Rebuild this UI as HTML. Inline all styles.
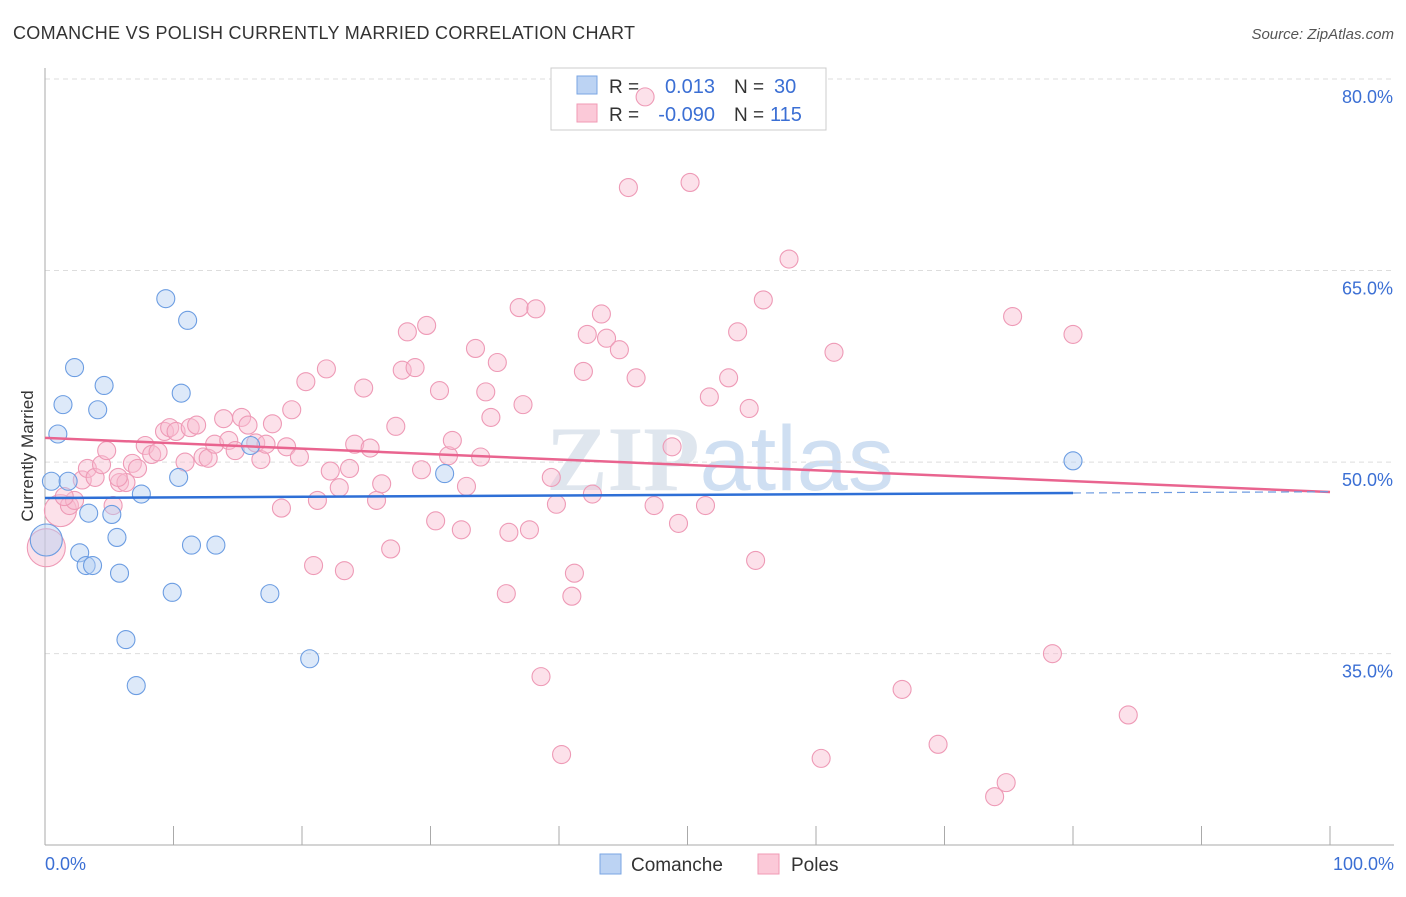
<!DOCTYPE html>
<html><head><meta charset="utf-8"><style>
body{margin:0;background:#fff;font-family:"Liberation Sans",sans-serif;}
</style></head><body>
<svg id="chart" width="1406" height="892" xmlns="http://www.w3.org/2000/svg" style="font-family:'Liberation Sans',sans-serif">
<text x="13" y="39" font-size="18" fill="#333" textLength="622">COMANCHE VS POLISH CURRENTLY MARRIED CORRELATION CHART</text>
<text x="1394" y="39" font-size="15" fill="#555" text-anchor="end" font-style="italic">Source: ZipAtlas.com</text>
<text x="720" y="490" font-size="92" fill="#dfe6ee" text-anchor="middle" font-family="Liberation Serif,serif" font-weight="bold">ZIP<tspan fill="#cfdff2" font-family="Liberation Sans,sans-serif" font-weight="normal">atlas</tspan></text>
<g id="grid"></g><g id="axes"></g>
<g>
<rect x="551" y="68" width="275" height="62" fill="#fff" stroke="#ccc"/>
<rect x="577" y="76" width="20" height="18" fill="#bcd3f3" stroke="#7aa6e3"/>
<rect x="577" y="104" width="20" height="18" fill="#fbc9d8" stroke="#f09ab5"/>
<text x="609" y="93" font-size="19" fill="#333">R =</text>
<text x="715" y="93" font-size="20" fill="#3b6fd4" text-anchor="end">0.013</text>
<text x="734" y="93" font-size="19" fill="#333">N =</text>
<text x="774" y="93" font-size="20" fill="#3b6fd4">30</text>
<text x="609" y="121" font-size="19" fill="#333">R =</text>
<text x="715" y="121" font-size="20" fill="#3b6fd4" text-anchor="end">-0.090</text>
<text x="734" y="121" font-size="19" fill="#333">N =</text>
<text x="770" y="121" font-size="20" fill="#3b6fd4">115</text>
</g>
<g id="marks"></g><g id="lines"></g>
<text transform="translate(33,456) rotate(-90)" font-size="17" fill="#333" text-anchor="middle">Currently Married</text>
<g>
<rect x="600" y="854" width="21" height="20" fill="#bcd3f3" stroke="#7aa6e3"/>
<text x="631" y="871" font-size="19" fill="#333">Comanche</text>
<rect x="758" y="854" width="21" height="20" fill="#fbc9d8" stroke="#f09ab5"/>
<text x="791" y="871" font-size="19" fill="#333">Poles</text>
</g>
</svg>
<script>
const yTicks=[80,65,50,35];
const xTickLabels=["0.0%","100.0%"];
const comancheX=[0.5,1.0,1.4,1.8,2.3,2.7,3.2,3.4,3.7,4.1,4.6,5.2,5.6,5.8,6.3,7.1,7.5,9.4,9.9,10.4,10.6,11.1,11.4,13.3,16.0,17.5,20.6,31.1,80.0,0.1];
const comancheY=[48.5,52.2,54.5,48.5,57.4,42.9,41.9,46.0,41.9,54.1,56.0,45.9,44.1,41.3,36.1,32.5,47.5,62.8,39.8,48.8,55.4,61.1,43.5,43.5,51.3,39.7,34.6,49.1,50.1,43.9];
const polesX=[0.1,1.2,1.9,2.3,2.9,3.3,3.9,4.4,4.8,5.3,5.8,6.3,6.8,7.2,7.8,8.3,8.8,9.3,9.7,10.2,10.9,11.3,11.8,12.3,12.7,13.2,13.9,14.3,14.8,15.3,15.8,16.4,16.8,17.2,17.7,18.4,18.8,19.2,19.8,20.3,20.9,21.2,21.9,22.2,22.9,23.3,23.7,24.1,24.8,25.3,25.8,26.2,26.9,27.3,27.8,28.2,28.8,29.3,29.7,30.4,30.7,31.4,31.7,32.4,32.8,33.5,33.9,34.3,34.7,35.2,35.9,36.1,36.9,37.2,37.7,38.2,38.6,39.4,39.8,40.2,41.0,41.2,41.9,42.2,42.6,43.3,43.7,44.7,45.4,46.0,46.7,47.4,48.8,49.3,50.2,51.4,51.7,53.2,53.9,54.8,55.3,55.9,57.9,60.4,61.4,66.7,69.5,73.9,74.8,75.3,78.4,80.0,84.3,1.5,5.7];
const polesY=[43.3,46.2,46.6,47.0,48.6,49.5,48.8,49.8,50.9,46.6,48.4,48.4,49.9,49.5,51.3,50.6,50.8,52.4,52.7,52.4,50.0,52.7,52.9,50.4,50.3,51.4,53.4,51.7,50.9,53.5,52.9,51.5,50.2,51.4,53.0,46.4,51.2,54.1,50.4,56.3,41.9,47.0,57.3,49.3,48.0,41.5,49.5,51.4,55.8,51.1,47.0,48.3,43.2,52.8,57.2,60.2,57.4,49.4,60.7,45.4,55.6,50.5,51.7,44.7,48.1,58.9,50.4,55.5,53.5,57.8,39.7,44.5,62.1,54.5,44.7,62.0,33.2,48.8,46.7,27.1,39.5,41.3,57.1,60.0,47.5,61.6,59.7,58.8,71.5,56.6,78.6,46.6,51.2,45.2,71.9,46.6,55.1,56.6,60.2,54.2,42.3,62.7,65.9,26.8,58.6,32.2,27.9,23.8,24.9,61.4,35.0,60.0,30.2,47.3,48.8];
const comancheTrend=[47.19,47.68];
const polesTrend=[51.9,47.66];
const NS="http://www.w3.org/2000/svg";
const X=v=>45+v*12.85, Y=v=>79+(80-v)*12.77;
function mk(tag,attrs,parent){const e=document.createElementNS(NS,tag);for(const k in attrs)e.setAttribute(k,attrs[k]);parent.appendChild(e);return e;}
const grid=document.getElementById('grid'),axes=document.getElementById('axes'),marks=document.getElementById('marks'),lines=document.getElementById('lines');
yTicks.forEach(t=>{
 const l=mk('line',{x1:45,x2:1394,y1:Y(t),y2:Y(t),stroke:'#ddd','stroke-dasharray':'5,4'},grid);
 
 
 const tx=mk('text',{x:1393,y:Y(t)+24,'font-size':18,fill:'#3b6fd4','text-anchor':'end'},grid);
 tx.textContent=t.toFixed(1)+'%';
 
 
});
const ya=mk('line',{x1:45,x2:45,y1:68,y2:845,stroke:'#aaa'},axes);


const xa=mk('line',{x1:45,x2:1394,y1:845,y2:845,stroke:'#aaa'},axes);


for(let i=0;i<=10;i++){const tk=mk('line',{x1:X(i*10),x2:X(i*10),y1:826,y2:845,stroke:'#aaa'},axes);
 
 }
[[0,'start',45],[100,'end',1394]].forEach((a,i)=>{const t=mk('text',{x:a[2],y:870,'font-size':18,fill:'#3b6fd4','text-anchor':a[1]},axes);t.textContent=xTickLabels[i];
 
 });
function dots(xs,ys,fill,stroke,name){xs.forEach((x,i)=>{
 const big=(x<1.3&&(i===xs.length-1||name==='poles-point'&&i<2));
 const c=mk('circle',{cx:X(x),cy:Y(ys[i]),r:big?(name==='poles-point'&&i===0?19:16):9,fill:fill,stroke:stroke,'stroke-width':1.1,'fill-opacity':0.45},marks);
 
 });}
dots(polesX,polesY,'#f8bcd0','#ee9ab6','poles-point');
dots(comancheX,comancheY,'#b3cff2','#6c9de2','comanche-point');
const pl=mk('line',{x1:X(0),y1:Y(polesTrend[0]),x2:X(100),y2:Y(polesTrend[1]),stroke:'#e9648f','stroke-width':2.5},lines);


const cy80=comancheTrend[0]+(comancheTrend[1]-comancheTrend[0])*0.8;
const cl=mk('line',{x1:X(0),y1:Y(comancheTrend[0]),x2:X(80),y2:Y(cy80),stroke:'#2e6fd6','stroke-width':2.5},lines);


const cd=mk('line',{x1:X(80),y1:Y(cy80),x2:X(100),y2:Y(comancheTrend[1]),stroke:'#6d9be0','stroke-width':1.2,'stroke-dasharray':'8,5'},lines);


</script>
</body></html>
